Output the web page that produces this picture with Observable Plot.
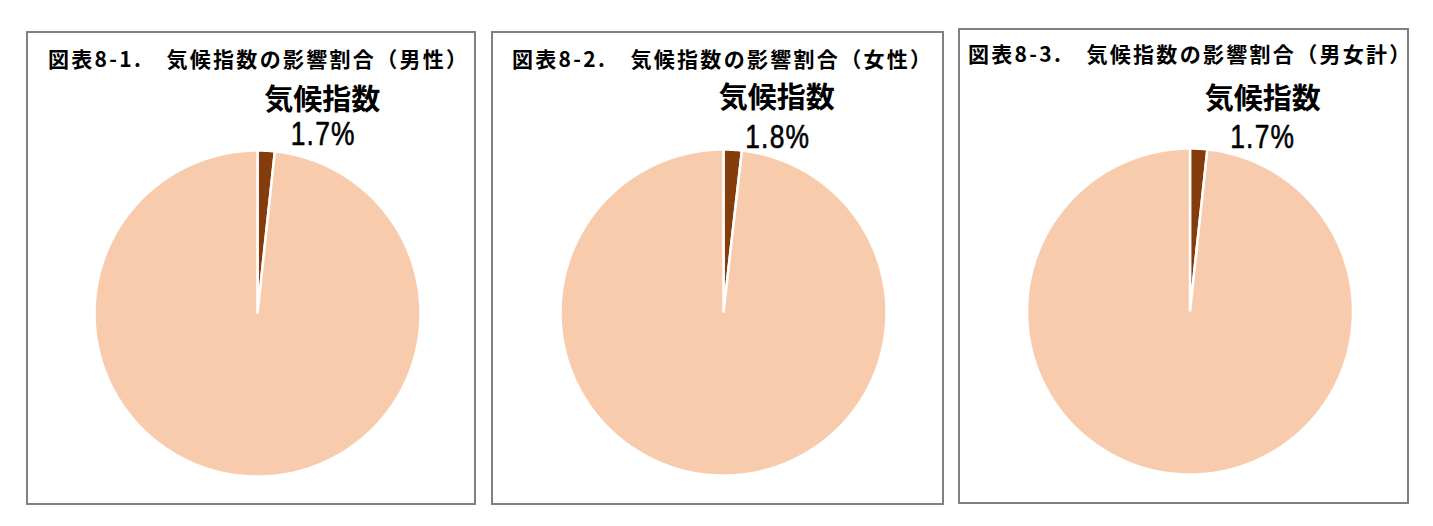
<!DOCTYPE html>
<html>
<head>
<meta charset="utf-8">
<script src="https://cdn.jsdelivr.net/npm/d3@7"></script>
<script src="https://cdn.jsdelivr.net/npm/@observablehq/plot@0.6"></script>
<style>
  html, body { margin: 0; padding: 0; background: #fff; }
  #page { position: relative; width: 1433px; height: 526px; overflow: hidden; background: #fff; }
  .panel { position: absolute; box-sizing: border-box; border: 2px solid #808080; background: #fff; }
  .panel svg { position: absolute; left: 0; top: 0; }
  .title { position: absolute; white-space: nowrap; font-family: "Noto Sans CJK JP", sans-serif; font-weight: 700;
           font-size: 21px; line-height: 21px; letter-spacing: 2.3px; color: #000; }
</style>
</head>
<body>
<div id="page"></div>
<script>
// ---- data ----
const titles = [
  "図表8-1.\u3000気候指数の影響割合（男性）",
  "図表8-2.\u3000気候指数の影響割合（女性）",
  "図表8-3.\u3000気候指数の影響割合（男女計）"
];
const categories = ["気候指数", "その他"];
const shareMen = [1.7, 98.3];
const shareWomen = [1.8, 98.2];
const shareTotal = [1.7, 98.3];
const colors = ["#843C0C", "#F8CBAD"];

// ---- layout (page pixels) ----
const layout = [
  {left: 26, top: 31, width: 450, height: 474, titleLeft: 20, titleTop: 15, cx: 257, cy: 313, r: 163,
   nameDx: 56, nameDy: -50, valDx: 57, valDy: -16},
  {left: 491, top: 31, width: 453, height: 474, titleLeft: 19, titleTop: 15, cx: 723, cy: 312, r: 163,
   nameDx: 44, nameDy: -51, valDx: 45, valDy: -12},
  {left: 958, top: 28, width: 451, height: 476, titleLeft: 8, titleTop: 13, cx: 1189.5, cy: 311, r: 163,
   nameDx: 64, nameDy: -49, valDx: 64, valDy: -11}
];
const series = [shareMen, shareWomen, shareTotal];

const page = document.getElementById("page");

series.forEach((values, i) => {
  const L = layout[i];
  const panel = document.createElement("div");
  panel.className = "panel";
  Object.assign(panel.style, {left: L.left + "px", top: L.top + "px", width: L.width + "px", height: L.height + "px"});
  page.appendChild(panel);

  const data = categories.map((c, j) => ({category: c, value: values[j]}));
  const arcs = d3.pie().sort(null).value(d => d.value)(data);

  // polygon points for each slice (angle 0 = 12 o'clock, clockwise)
  const pts = [];
  arcs.forEach(a => {
    const cat = a.data.category;
    pts.push({category: cat, x: 0, y: 0});
    const n = Math.max(2, Math.ceil((a.endAngle - a.startAngle) / (Math.PI / 360)));
    for (let k = 0; k <= n; k++) {
      const t = a.startAngle + (a.endAngle - a.startAngle) * k / n;
      pts.push({category: cat, x: Math.sin(t), y: Math.cos(t)});
    }
  });

  const main = arcs[0];
  const mid = (main.startAngle + main.endAngle) / 2;
  const anchor = [{x: Math.sin(mid), y: Math.cos(mid), name: main.data.category, label: main.data.value.toFixed(1) + "%"}];

  const sx = L.left + 2, sy = L.top + 2;
  const W = L.width - 4, H = L.height - 4;

  const svg = Plot.plot({
    width: W,
    height: H,
    margin: 0,
    style: {background: "transparent", overflow: "visible"},
    x: {domain: [-1, 1], range: [L.cx - L.r - sx, L.cx + L.r - sx], axis: null},
    y: {domain: [-1, 1], range: [L.cy + L.r - sy, L.cy - L.r - sy], axis: null},
    color: {domain: categories, range: colors},
    marks: [
      Plot.line(pts, {x: "x", y: "y", z: "category", fill: "category", stroke: "#ffffff", strokeWidth: 2.5,
                      strokeLinejoin: "miter", curve: "linear-closed"}),
      Plot.text(anchor, {x: "x", y: "y", text: "name", dx: L.nameDx, dy: L.nameDy, fontSize: 29, fontWeight: 700,
                         fontFamily: "Noto Sans CJK JP, sans-serif", fill: "#000"}),
      Plot.text(anchor, {x: "x", y: "y", text: "label", dx: L.valDx, dy: L.valDy, fontSize: 33, fontWeight: 400,
                         fontFamily: "Liberation Sans, Arial, sans-serif", fill: "#000",
                         stroke: "#000", strokeWidth: 0.6})
    ]
  });
  // condense the percentage label horizontally, like the original's narrow digits
  d3.select(svg).selectAll("text").filter(function() { return /%$/.test(this.textContent); })
    .each(function() {
      const t = d3.select(this);
      const tr = t.attr("transform") || "";
      t.attr("transform", tr + " scale(0.8,1)").style("letter-spacing", "1.5px");
    });
  panel.appendChild(svg);

  const title = document.createElement("div");
  title.className = "title";
  title.textContent = titles[i];
  Object.assign(title.style, {left: L.titleLeft + "px", top: L.titleTop + "px"});
  panel.appendChild(title);
});
</script>
</body>
</html>
